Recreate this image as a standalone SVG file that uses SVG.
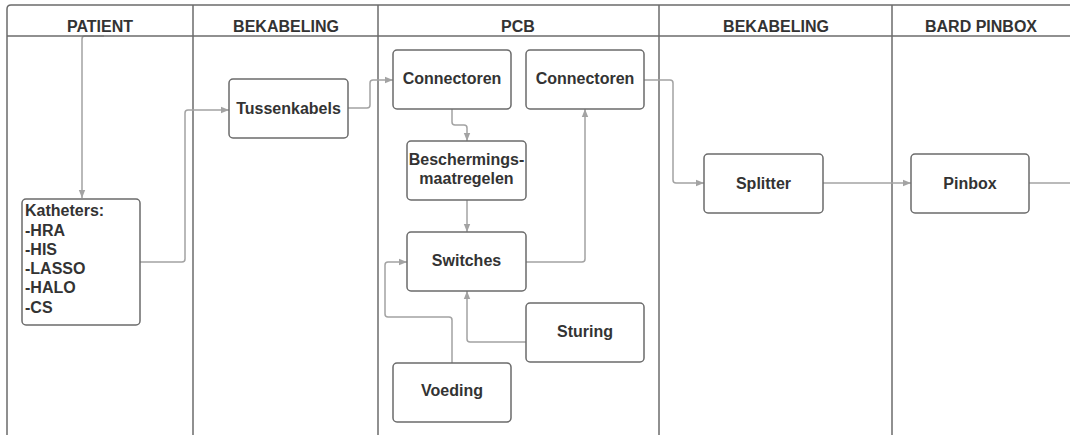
<svg xmlns="http://www.w3.org/2000/svg" width="1070" height="435" viewBox="0 0 1070 435">
<style>
.lane{fill:none;stroke:#6b6b6b;stroke-width:1.5}
.hdr{font-family:"Liberation Sans",Arial,sans-serif;font-weight:bold;font-size:16px;fill:#333;text-anchor:middle}
.box{fill:#fff;stroke:#6b6b6b;stroke-width:1.5}
.t{font-family:"Liberation Sans",Arial,sans-serif;font-weight:bold;font-size:16px;fill:#333;text-anchor:middle}
.tl{font-family:"Liberation Sans",Arial,sans-serif;font-weight:bold;font-size:16px;fill:#333}
.c{fill:none;stroke:#a3a3a3;stroke-width:1.5;stroke-linejoin:round}
</style>
<defs>
<marker id="ah" viewBox="0 0 10 10" refX="10" refY="5" markerWidth="8" markerHeight="8" markerUnits="userSpaceOnUse" orient="auto">
<path d="M0,1 L10,5 L0,9 Z" fill="#a3a3a3"/>
</marker>
</defs>
<rect width="1070" height="435" fill="#fff"/>
<g id="lanes">
<path class="lane" d="M7,440 L7,9 Q7,5 11,5 L1080,5"/>
<line class="lane" x1="193" y1="5" x2="193" y2="440"/>
<line class="lane" x1="378" y1="5" x2="378" y2="440"/>
<line class="lane" x1="659" y1="5" x2="659" y2="440"/>
<line class="lane" x1="892" y1="5" x2="892" y2="440"/>
<text class="hdr" x="100" y="32">PATIENT</text>
<text class="hdr" x="286" y="32">BEKABELING</text>
<text class="hdr" x="518" y="32">PCB</text>
<text class="hdr" x="776" y="32">BEKABELING</text>
<text class="hdr" x="981" y="32">BARD PINBOX</text>
</g>
<g id="connectors">
<path class="c" d="M104,36 L85,36 Q82,36 82,39 L82,198" marker-end="url(#ah)"/>
<path class="c" d="M140,262 L182,262 Q185,262 185,259 L185,113 Q185,110 188,110 L229,110" marker-end="url(#ah)"/>
<path class="c" d="M348,108 L367,108 Q370,108 370,105 L370,83 Q370,80 373,80 L393,80" marker-end="url(#ah)"/>
<path class="c" d="M452,109 L452,122 Q452,125 455,125 L464,125 Q467,125 467,128 L467,141" marker-end="url(#ah)"/>
<path class="c" d="M467,200 L467,232" marker-end="url(#ah)"/>
<path class="c" d="M526,262 L582,262 Q585,262 585,259 L585,109" marker-end="url(#ah)"/>
<path class="c" d="M526,342 L470,342 Q467,342 467,339 L467,291" marker-end="url(#ah)"/>
<path class="c" d="M452,363 L452,320 Q452,317 449,317 L388,317 Q385,317 385,314 L385,265 Q385,262 388,262 L407,262" marker-end="url(#ah)"/>
<path class="c" d="M644,80 L670,80 Q673,80 673,83 L673,180 Q673,183 676,183 L704,183" marker-end="url(#ah)"/>
<path class="c" d="M823,183 L911,183" marker-end="url(#ah)"/>
<path class="c" d="M1029,183 L1075,183"/>
</g>
<path class="lane" d="M7,36 L1080,36"/>
<g id="katheters">
<rect class="box" x="22" y="199" width="118" height="126" rx="4"/>
<text class="tl" x="25" y="216">Katheters:</text>
<text class="tl" x="25" y="236">-HRA</text>
<text class="tl" x="25" y="255">-HIS</text>
<text class="tl" x="25" y="274">-LASSO</text>
<text class="tl" x="25" y="293">-HALO</text>
<text class="tl" x="25" y="313">-CS</text>
</g>
<g id="tussenkabels">
<rect class="box" x="229" y="79" width="119" height="59" rx="4"/>
<text class="t" x="288.5" y="114">Tussenkabels</text>
</g>
<g id="connectoren1">
<rect class="box" x="393" y="50" width="118" height="59" rx="4"/>
<text class="t" x="452" y="84">Connectoren</text>
</g>
<g id="connectoren2">
<rect class="box" x="526" y="50" width="118" height="59" rx="4"/>
<text class="t" x="585" y="84">Connectoren</text>
</g>
<g id="beschermingsmaatregelen">
<rect class="box" x="407" y="141" width="119" height="59" rx="4"/>
<text class="t" x="466.5" y="165">Beschermings-</text>
<text class="t" x="466.5" y="184">maatregelen</text>
</g>
<g id="switches">
<rect class="box" x="407" y="232" width="119" height="59" rx="4"/>
<text class="t" x="466.5" y="266">Switches</text>
</g>
<g id="sturing">
<rect class="box" x="526" y="303" width="118" height="59" rx="4"/>
<text class="t" x="585" y="337">Sturing</text>
</g>
<g id="voeding">
<rect class="box" x="393" y="363" width="118" height="59" rx="4"/>
<text class="t" x="452" y="396">Voeding</text>
</g>
<g id="splitter">
<rect class="box" x="704" y="154" width="119" height="59" rx="4"/>
<text class="t" x="763.5" y="189">Splitter</text>
</g>
<g id="pinbox">
<rect class="box" x="911" y="154" width="118" height="59" rx="4"/>
<text class="t" x="970" y="189">Pinbox</text>
</g>
</svg>
